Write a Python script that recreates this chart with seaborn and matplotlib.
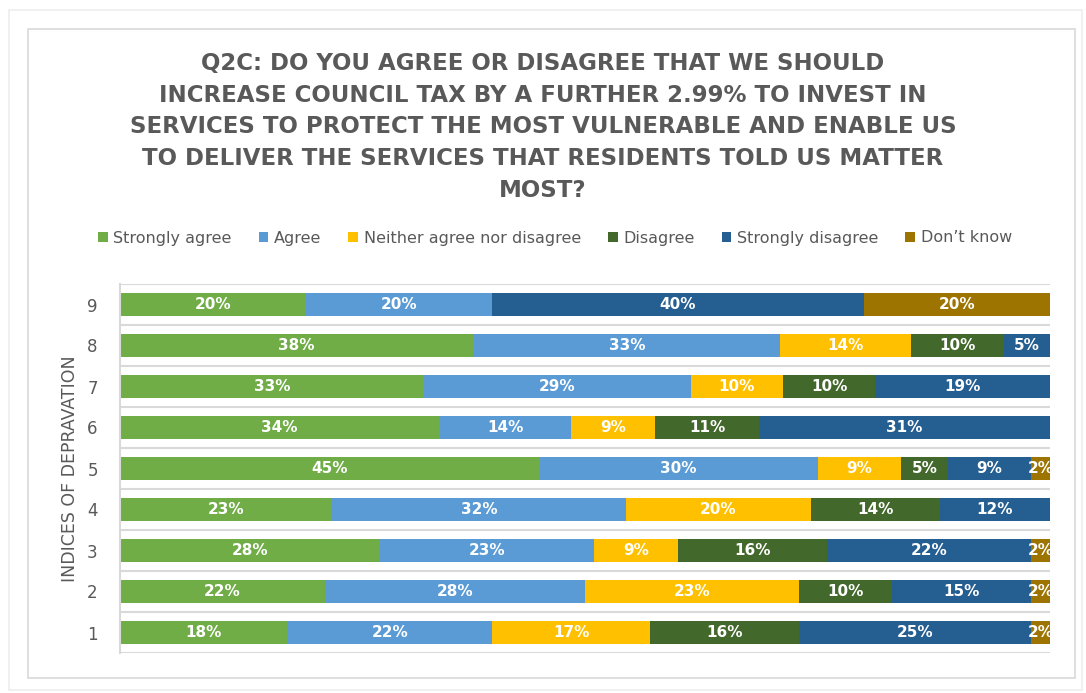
import numpy as np
import pandas as pd
import matplotlib
matplotlib.use("Agg")
import matplotlib.pyplot as plt
from matplotlib.patches import Rectangle, Patch
import seaborn as sns

# Survey responses by indices of deprivation (percent of respondents)
deciles = ["9", "8", "7", "6", "5", "4", "3", "2", "1"]
responses = ["Strongly agree", "Agree", "Neither agree nor disagree",
             "Disagree", "Strongly disagree", "Don\u2019t know"]
strongly_agree = [20, 38, 33, 34, 45, 23, 28, 22, 18]
agree = [20, 33, 29, 14, 30, 32, 23, 28, 22]
neither = [0, 14, 10, 9, 9, 20, 9, 23, 17]
disagree = [0, 10, 10, 11, 5, 14, 16, 10, 16]
strongly_disagree = [40, 5, 19, 31, 9, 12, 22, 15, 25]
dont_know = [20, 0, 0, 0, 2, 0, 2, 2, 2]

colors = ["#70AD47", "#5B9BD5", "#FFC000", "#43682B", "#255E91", "#9E7400"]
grey = "#595959"

sns.set_theme(style="white")
plt.rcParams["font.family"] = ["DejaVu Sans"]

values = np.array([strongly_agree, agree, neither, disagree,
                   strongly_disagree, dont_know], dtype=float)
shares = values / values.sum(axis=0) * 100  # 100% stacked
cum = np.cumsum(shares, axis=0)

df = pd.DataFrame({"decile": deciles})
for i, r in enumerate(responses):
    df[r] = cum[i]

fig = plt.figure(figsize=(10.86, 6.93), dpi=100)
fig.patch.set_facecolor("white")

# chart frames
fig.patches.append(Rectangle((9 / 1086, 1 - 690 / 693), 1073 / 1086, 680 / 693,
                             transform=fig.transFigure, fill=False,
                             edgecolor="#EDEDED", linewidth=1.2))
fig.patches.append(Rectangle((28 / 1086, 1 - 678 / 693), 1047 / 1086, 649 / 693,
                             transform=fig.transFigure, fill=False,
                             edgecolor="#D9D9D9", linewidth=1.2))

ax = fig.add_axes([120 / 1086, 1 - 653 / 693, 930 / 1086, 369 / 693])

# draw cumulative totals from the outermost segment inwards
for i in range(len(responses) - 1, -1, -1):
    sns.barplot(data=df, x=responses[i], y="decile", order=deciles,
                orient="h", color=colors[i], saturation=1, width=0.56,
                linewidth=0, ax=ax)

# segment value labels
for j in range(len(deciles)):
    for i in range(len(responses)):
        v = values[i, j]
        if v <= 0:
            continue
        start = cum[i, j] - shares[i, j]
        ax.text(start + shares[i, j] / 2, j, f"{int(v)}%", ha="center",
                va="center", color="white", fontsize=11, fontweight="bold",
                clip_on=True)

ax.set_xlim(0, 100)
ax.set_ylim(len(deciles) - 0.5, -0.5)
for b in np.arange(-0.5, len(deciles), 1.0):
    ax.axhline(b, color="#D9D9D9", linewidth=1.5, zorder=0)
ax.set_xticks([])
ax.set_xlabel("")
ax.set_ylabel("INDICES OF DEPRAVATION", fontsize=12.5, color=grey, labelpad=6)
ax.tick_params(axis="y", length=0, labelsize=12, labelcolor=grey, pad=16)
for s in ["top", "right", "bottom"]:
    ax.spines[s].set_visible(False)
ax.spines["left"].set_color("#D9D9D9")
ax.spines["left"].set_linewidth(1.5)

title = ("Q2C: DO YOU AGREE OR DISAGREE THAT WE SHOULD\n"
         "INCREASE COUNCIL TAX BY A FURTHER 2.99% TO INVEST IN\n"
         "SERVICES TO PROTECT THE MOST VULNERABLE AND ENABLE US\n"
         "TO DELIVER THE SERVICES THAT RESIDENTS TOLD US MATTER\n"
         "MOST?")
fig.text(0.5, 1 - 52 / 693, title, ha="center", va="top", fontsize=16.5,
         fontweight="bold", color=grey, linespacing=1.48)

handles = [Patch(facecolor=c, edgecolor="none") for c in colors]
fig.legend(handles, responses, loc="center", ncol=6,
           bbox_to_anchor=(0.511, 1 - 238 / 693), frameon=False,
           fontsize=11.5, labelcolor=grey, handlelength=0.6,
           handleheight=0.6, handletextpad=0.35, columnspacing=1.7)

fig.savefig("out.png", dpi=100, facecolor="white")
